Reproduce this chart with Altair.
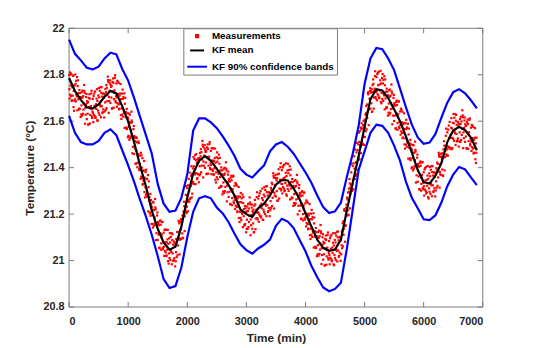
import altair as alt
import pandas as pd

# ---------------- data ----------------
series_names = ["Measurements", "KF mean", "KF 90% confidence bands"]
series_colors = ["#ff0000", "#000000", "#0000ff"]

x_ticks = [0, 1000, 2000, 3000, 4000, 5000, 6000, 7000]
y_ticks = [20.8, 21.0, 21.2, 21.4, 21.6, 21.8, 22.0]

# KF curves sampled every 100 min, 0 .. 6900
grid_t = list(range(0, 7000, 100))
kf_mean = [
    21.786, 21.730, 21.692, 21.660, 21.654, 21.672, 21.705, 21.730, 21.720, 21.665,
    21.598, 21.510, 21.410, 21.320, 21.215, 21.137, 21.078, 21.047, 21.060, 21.145,
    21.270, 21.375, 21.430, 21.450, 21.430, 21.395, 21.360, 21.325, 21.280, 21.220,
    21.200, 21.188, 21.225, 21.245, 21.280, 21.327, 21.347, 21.345, 21.310, 21.265,
    21.205, 21.147, 21.090, 21.055, 21.042, 21.047, 21.090, 21.215, 21.335, 21.450,
    21.575, 21.695, 21.738, 21.732, 21.700, 21.652, 21.600, 21.535, 21.465, 21.390,
    21.338, 21.332, 21.365, 21.420, 21.510, 21.560, 21.576, 21.562, 21.530, 21.475,
]
band_upper = [
    21.951, 21.890, 21.862, 21.830, 21.823, 21.835, 21.870, 21.895, 21.888, 21.825,
    21.775, 21.700, 21.620, 21.540, 21.460, 21.330, 21.245, 21.210, 21.215, 21.270,
    21.370, 21.560, 21.612, 21.612, 21.595, 21.570, 21.535, 21.495, 21.450, 21.395,
    21.370, 21.358, 21.385, 21.410, 21.470, 21.500, 21.510, 21.490, 21.460, 21.420,
    21.380, 21.335, 21.280, 21.230, 21.205, 21.212, 21.250, 21.360, 21.460, 21.580,
    21.760, 21.870, 21.915, 21.910, 21.870, 21.820, 21.740, 21.660, 21.585, 21.530,
    21.503, 21.508, 21.545, 21.615, 21.680, 21.725, 21.738, 21.720, 21.690, 21.655,
]
band_lower = [
    21.623, 21.550, 21.510, 21.500, 21.500, 21.515, 21.550, 21.565, 21.540, 21.475,
    21.410, 21.340, 21.262, 21.190, 21.110, 21.020, 20.920, 20.882, 20.890, 20.970,
    21.100, 21.210, 21.268, 21.277, 21.268, 21.228, 21.203, 21.165, 21.115, 21.070,
    21.045, 21.030, 21.052, 21.068, 21.090, 21.150, 21.180, 21.168, 21.140, 21.090,
    21.040, 20.978, 20.928, 20.884, 20.868, 20.878, 20.905, 21.050, 21.220, 21.390,
    21.470, 21.550, 21.585, 21.580, 21.550, 21.495, 21.430, 21.340, 21.270, 21.225,
    21.178, 21.174, 21.195, 21.250, 21.320, 21.370, 21.403, 21.393, 21.358, 21.325,
]

# measurements: four interleaved sample sets
# set A at t = 0, 20, 40 ... ; B at 10, 30 ... ; C at 5, 25 ... ; D at 15, 35 ...
meas_a = [
    21.798, 21.714, 21.801, 21.710, 21.730,  21.694, 21.774, 21.647, 21.721, 21.653,
    21.703, 21.624, 21.708, 21.730, 21.628,  21.609, 21.683, 21.661, 21.627, 21.731,
    21.696, 21.627, 21.728, 21.653, 21.687,  21.636, 21.731, 21.617, 21.706, 21.651,
    21.716, 21.648, 21.744, 21.777, 21.687,  21.679, 21.752, 21.729, 21.695, 21.798,
    21.762, 21.678, 21.765, 21.675, 21.695,  21.629, 21.704, 21.571, 21.640, 21.566,
    21.611, 21.520, 21.593, 21.603, 21.490,  21.459, 21.514, 21.473, 21.421, 21.506,
    21.452, 21.361, 21.441, 21.344, 21.357,  21.284, 21.352, 21.212, 21.274, 21.193,
    21.231, 21.142, 21.217, 21.229, 21.118,  21.089, 21.152, 21.118, 21.074, 21.166,
    21.120, 21.041, 21.133, 21.047, 21.072,  21.011, 21.102, 20.984, 21.069, 21.010,
    21.071, 21.015, 21.123, 21.168, 21.090,  21.094, 21.194, 21.198, 21.191, 21.321,
    21.312, 21.260, 21.379, 21.321, 21.373,  21.339, 21.438, 21.329, 21.422, 21.372,
    21.441, 21.372, 21.467, 21.499, 21.408,  21.399, 21.470, 21.445, 21.409, 21.510,
    21.472, 21.392, 21.483, 21.397, 21.421,  21.359, 21.440, 21.313, 21.388, 21.320,
    21.371, 21.291, 21.375, 21.396, 21.294,  21.274, 21.340, 21.310, 21.269, 21.365,
    21.322, 21.237, 21.323, 21.232, 21.251,  21.184, 21.268, 21.144, 21.222, 21.157,
    21.211, 21.136, 21.224, 21.250, 21.152,  21.137, 21.219, 21.206, 21.181, 21.294,
    21.267, 21.198, 21.300, 21.225, 21.260,  21.209, 21.304, 21.191, 21.280, 21.226,
    21.291, 21.227, 21.328, 21.365, 21.280,  21.276, 21.355, 21.338, 21.310, 21.419,
    21.389, 21.316, 21.413, 21.334, 21.364,  21.309, 21.390, 21.263, 21.338, 21.270,
    21.321, 21.239, 21.321, 21.340, 21.236,  21.214, 21.277, 21.244, 21.200, 21.293,
    21.247, 21.162, 21.249, 21.158, 21.178,  21.111, 21.188, 21.056, 21.127, 21.054,
    21.101, 21.021, 21.105, 21.126, 21.024,  21.004, 21.076, 21.053, 21.018, 21.121,
    21.084, 21.012, 21.111, 21.033, 21.065,  21.011, 21.108, 20.996, 21.087, 21.034,
    21.101, 21.053, 21.169, 21.222, 21.152,  21.194, 21.293, 21.296, 21.288, 21.417,
    21.407, 21.357, 21.478, 21.422, 21.476,  21.444, 21.557, 21.462, 21.569, 21.533,
    21.606, 21.557, 21.672, 21.724, 21.653,  21.654, 21.738, 21.725, 21.702, 21.815,
    21.790, 21.716, 21.813, 21.732, 21.762,  21.696, 21.778, 21.651, 21.727, 21.659,
    21.711, 21.628, 21.710, 21.728, 21.624,  21.601, 21.666, 21.634, 21.592, 21.686,
    21.642, 21.556, 21.641, 21.549, 21.567,  21.499, 21.573, 21.439, 21.507, 21.432,
    21.476, 21.388, 21.464, 21.477, 21.367,  21.339, 21.404, 21.372, 21.330, 21.424,
    21.380, 21.306, 21.403, 21.322, 21.352,  21.296, 21.391, 21.277, 21.366, 21.311,
    21.376, 21.314, 21.416, 21.455, 21.371,  21.369, 21.462, 21.459, 21.445, 21.568,
    21.552, 21.489, 21.597, 21.528, 21.569,  21.524, 21.615, 21.498, 21.584, 21.526,
    21.587, 21.511, 21.599, 21.625, 21.527,  21.511, 21.580, 21.552, 21.514, 21.612,
    21.572, 21.488, 21.575, 21.485, 21.505,
]
meas_b = [
    21.698, 21.753, 21.690, 21.795, 21.689,  21.761, 21.707, 21.776, 21.654, 21.704,
    21.668, 21.732, 21.676, 21.589, 21.704,  21.678, 21.587, 21.697, 21.665, 21.614,
    21.596, 21.666, 21.617, 21.738, 21.646,  21.703, 21.664, 21.746, 21.639, 21.702,
    21.681, 21.756, 21.712, 21.636, 21.763,  21.748, 21.656, 21.765, 21.733, 21.681,
    21.662, 21.717, 21.654, 21.760, 21.654,  21.696, 21.637, 21.700, 21.573, 21.617,
    21.576, 21.628, 21.561, 21.462, 21.566,  21.528, 21.418, 21.509, 21.459, 21.389,
    21.352, 21.400, 21.330, 21.429, 21.316,  21.351, 21.285, 21.341, 21.207, 21.244,
    21.196, 21.250, 21.185, 21.088, 21.194,  21.158, 21.056, 21.154, 21.112, 21.049,
    21.020, 21.080, 21.022, 21.132, 21.031,  21.078, 21.035, 21.113, 21.002, 21.061,
    21.036, 21.123, 21.091, 21.027, 21.166,  21.163, 21.098, 21.234, 21.229, 21.204,
    21.212, 21.299, 21.268, 21.406, 21.332,  21.406, 21.371, 21.458, 21.355, 21.423,
    21.406, 21.480, 21.435, 21.358, 21.484,  21.468, 21.374, 21.481, 21.447, 21.393,
    21.372, 21.431, 21.372, 21.482, 21.380,  21.426, 21.373, 21.442, 21.321, 21.371,
    21.336, 21.399, 21.343, 21.255, 21.370,  21.343, 21.244, 21.346, 21.307, 21.248,
    21.222, 21.276, 21.212, 21.317, 21.210,  21.251, 21.201, 21.273, 21.155, 21.208,
    21.176, 21.244, 21.192, 21.109, 21.228,  21.206, 21.123, 21.242, 21.219, 21.177,
    21.167, 21.237, 21.189, 21.310, 21.219,  21.276, 21.237, 21.320, 21.213, 21.277,
    21.256, 21.335, 21.296, 21.224, 21.356,  21.345, 21.259, 21.374, 21.348, 21.302,
    21.289, 21.355, 21.302, 21.419, 21.323,  21.376, 21.323, 21.392, 21.271, 21.321,
    21.286, 21.347, 21.289, 21.199, 21.312,  21.283, 21.181, 21.280, 21.238, 21.176,
    21.147, 21.201, 21.138, 21.243, 21.137,  21.178, 21.121, 21.185, 21.060, 21.105,
    21.066, 21.129, 21.073, 20.985, 21.100,  21.073, 20.980, 21.089, 21.056, 21.004,
    20.984, 21.051, 21.000, 21.118, 21.024,  21.078, 21.041, 21.125, 21.020, 21.085,
    21.066, 21.161, 21.137, 21.081, 21.228,  21.263, 21.197, 21.332, 21.326, 21.300,
    21.307, 21.396, 21.367, 21.507, 21.435,  21.511, 21.490, 21.591, 21.502, 21.584,
    21.571, 21.665, 21.640, 21.583, 21.729,  21.723, 21.642, 21.761, 21.740, 21.698,
    21.690, 21.755, 21.702, 21.817, 21.721,  21.763, 21.711, 21.780, 21.660, 21.710,
    21.676, 21.736, 21.678, 21.587, 21.700,  21.670, 21.570, 21.670, 21.630, 21.569,
    21.542, 21.595, 21.530, 21.634, 21.526,  21.566, 21.506, 21.568, 21.440, 21.483,
    21.441, 21.496, 21.432, 21.336, 21.443,  21.408, 21.308, 21.408, 21.368, 21.307,
    21.280, 21.345, 21.292, 21.407, 21.311,  21.363, 21.324, 21.406, 21.299, 21.362,
    21.341, 21.422, 21.384, 21.314, 21.447,  21.438, 21.366, 21.495, 21.483, 21.451,
    21.452, 21.528, 21.486, 21.613, 21.528,  21.591, 21.548, 21.627, 21.517, 21.577,
    21.552, 21.619, 21.567, 21.484, 21.603,  21.580, 21.484, 21.588, 21.552, 21.495,
    21.472, 21.527, 21.464, 21.570, 21.464,
]
meas_c = [
    21.738, 21.806, 21.687, 21.754, 21.645,  21.801, 21.714, 21.751, 21.650, 21.721,
    21.629, 21.701, 21.650, 21.722, 21.672,  21.686, 21.585, 21.716, 21.654, 21.620,
    21.636, 21.719, 21.614, 21.697, 21.602,  21.743, 21.671, 21.721, 21.635, 21.719,
    21.642, 21.725, 21.686, 21.769, 21.731,  21.756, 21.654, 21.784, 21.722, 21.687,
    21.702, 21.770, 21.651, 21.719, 21.610,  21.736, 21.644, 21.675, 21.569, 21.634,
    21.537, 21.597, 21.535, 21.595, 21.534,  21.536, 21.416, 21.528, 21.448, 21.395,
    21.392, 21.453, 21.327, 21.388, 21.272,  21.391, 21.292, 21.316, 21.203, 21.261,
    21.157, 21.219, 21.159, 21.221, 21.162,  21.166, 21.054, 21.173, 21.101, 21.055,
    21.060, 21.133, 21.019, 21.091, 20.987,  21.118, 21.042, 21.088, 20.998, 21.078,
    20.997, 21.092, 21.065, 21.160, 21.134,  21.171, 21.096, 21.253, 21.218, 21.210,
    21.252, 21.352, 21.265, 21.365, 21.288,  21.446, 21.378, 21.433, 21.351, 21.440,
    21.367, 21.449, 21.409, 21.491, 21.452,  21.476, 21.372, 21.500, 21.436, 21.399,
    21.412, 21.484, 21.369, 21.441, 21.336,  21.466, 21.380, 21.417, 21.317, 21.388,
    21.297, 21.368, 21.317, 21.388, 21.338,  21.351, 21.242, 21.365, 21.296, 21.254,
    21.262, 21.329, 21.209, 21.276, 21.166,  21.291, 21.208, 21.248, 21.151, 21.225,
    21.137, 21.213, 21.166, 21.242, 21.196,  21.214, 21.121, 21.261, 21.208, 21.183,
    21.207, 21.290, 21.186, 21.269, 21.175,  21.316, 21.244, 21.295, 21.209, 21.294,
    21.217, 21.304, 21.270, 21.357, 21.324,  21.353, 21.257, 21.393, 21.337, 21.308,
    21.329, 21.408, 21.299, 21.378, 21.279,  21.416, 21.330, 21.367, 21.267, 21.338,
    21.247, 21.316, 21.263, 21.332, 21.280,  21.291, 21.179, 21.299, 21.227, 21.182,
    21.187, 21.254, 21.135, 21.202, 21.093,  21.218, 21.128, 21.160, 21.056, 21.122,
    21.027, 21.098, 21.047, 21.118, 21.068,  21.081, 20.978, 21.108, 21.045, 21.010,
    21.024, 21.104, 20.997, 21.077, 20.980,  21.118, 21.048, 21.100, 21.016, 21.102,
    21.027, 21.130, 21.111, 21.214, 21.196,  21.271, 21.195, 21.351, 21.315, 21.306,
    21.347, 21.449, 21.364, 21.466, 21.391,  21.551, 21.497, 21.566, 21.498, 21.601,
    21.532, 21.634, 21.614, 21.716, 21.697,  21.731, 21.640, 21.780, 21.729, 21.704,
    21.730, 21.808, 21.699, 21.776, 21.677,  21.803, 21.718, 21.755, 21.656, 21.727,
    21.637, 21.705, 21.652, 21.720, 21.668,  21.678, 21.568, 21.689, 21.619, 21.575,
    21.582, 21.648, 21.527, 21.593, 21.482,  21.606, 21.513, 21.543, 21.436, 21.500,
    21.402, 21.465, 21.406, 21.469, 21.411,  21.416, 21.306, 21.427, 21.357, 21.313,
    21.320, 21.398, 21.289, 21.366, 21.267,  21.403, 21.331, 21.381, 21.295, 21.379,
    21.302, 21.391, 21.358, 21.447, 21.415,  21.446, 21.364, 21.514, 21.472, 21.457,
    21.492, 21.581, 21.483, 21.572, 21.484,  21.631, 21.555, 21.602, 21.513, 21.594,
    21.513, 21.588, 21.541, 21.617, 21.571,  21.588, 21.482, 21.607, 21.541, 21.501,
    21.512, 21.580, 21.461, 21.529, 21.420,
]
meas_d = [
    21.810, 21.708, 21.746, 21.661, 21.754,  21.685, 21.790, 21.694, 21.734, 21.618,
    21.725, 21.632, 21.756, 21.657, 21.717,  21.632, 21.700, 21.590, 21.719, 21.642,
    21.708, 21.621, 21.673, 21.604, 21.711,  21.627, 21.747, 21.664, 21.719, 21.616,
    21.738, 21.656, 21.792, 21.704, 21.776,  21.702, 21.769, 21.658, 21.787, 21.709,
    21.774, 21.672, 21.710, 21.626, 21.719,  21.620, 21.720, 21.618, 21.653, 21.531,
    21.633, 21.528, 21.641, 21.530, 21.579,  21.482, 21.531, 21.402, 21.513, 21.417,
    21.464, 21.355, 21.386, 21.295, 21.381,  21.275, 21.368, 21.259, 21.287, 21.158,
    21.253, 21.150, 21.265, 21.156, 21.207,  21.112, 21.169, 21.047, 21.166, 21.077,
    21.132, 21.035, 21.078, 20.998, 21.096,  21.002, 21.118, 21.031, 21.082, 20.975,
    21.093, 21.023, 21.171, 21.095, 21.179,  21.117, 21.211, 21.127, 21.283, 21.232,
    21.324, 21.254, 21.324, 21.272, 21.397,  21.330, 21.454, 21.376, 21.435, 21.337,
    21.463, 21.380, 21.515, 21.426, 21.497,  21.422, 21.487, 21.374, 21.501, 21.421,
    21.484, 21.386, 21.428, 21.348, 21.445,  21.350, 21.456, 21.360, 21.401, 21.285,
    21.393, 21.299, 21.423, 21.323, 21.383,  21.297, 21.357, 21.239, 21.361, 21.276,
    21.334, 21.231, 21.268, 21.183, 21.275,  21.175, 21.284, 21.191, 21.235, 21.122,
    21.233, 21.144, 21.272, 21.177, 21.241,  21.160, 21.236, 21.135, 21.273, 21.205,
    21.279, 21.192, 21.245, 21.176, 21.284,  21.200, 21.320, 21.238, 21.293, 21.191,
    21.313, 21.235, 21.376, 21.292, 21.369,  21.299, 21.372, 21.267, 21.402, 21.330,
    21.401, 21.310, 21.358, 21.285, 21.388,  21.300, 21.406, 21.310, 21.351, 21.235,
    21.343, 21.247, 21.369, 21.267, 21.325,  21.237, 21.294, 21.173, 21.292, 21.204,
    21.259, 21.156, 21.194, 21.109, 21.202,  21.102, 21.204, 21.103, 21.140, 21.019,
    21.123, 21.029, 21.153, 21.053, 21.113,  21.027, 21.093, 20.982, 21.110, 21.032,
    21.096, 21.006, 21.056, 20.984, 21.089,  21.002, 21.124, 21.043, 21.100, 20.999,
    21.123, 21.061, 21.217, 21.149, 21.241,  21.217, 21.310, 21.225, 21.380, 21.328,
    21.419, 21.351, 21.423, 21.373, 21.500,  21.435, 21.573, 21.509, 21.582, 21.498,
    21.628, 21.565, 21.720, 21.651, 21.742,  21.677, 21.755, 21.654, 21.794, 21.726,
    21.802, 21.710, 21.758, 21.683, 21.786,  21.687, 21.794, 21.698, 21.740, 21.624,
    21.733, 21.636, 21.758, 21.655, 21.713,  21.624, 21.683, 21.563, 21.684, 21.597,
    21.654, 21.550, 21.586, 21.500, 21.591,  21.490, 21.589, 21.486, 21.520, 21.397,
    21.498, 21.396, 21.512, 21.404, 21.456,  21.362, 21.421, 21.301, 21.422, 21.335,
    21.392, 21.300, 21.348, 21.273, 21.376,  21.287, 21.407, 21.324, 21.379, 21.276,
    21.398, 21.322, 21.464, 21.382, 21.460,  21.392, 21.479, 21.388, 21.537, 21.479,
    21.564, 21.483, 21.542, 21.479, 21.593,  21.515, 21.631, 21.545, 21.597, 21.491,
    21.609, 21.519, 21.647, 21.552, 21.616,  21.534, 21.597, 21.481, 21.606, 21.523,
    21.584, 21.482, 21.520, 21.436, 21.529,
]
meas_t_a = list(range(0, 6900, 20))
meas_t_b = list(range(10, 6900, 20))
meas_t_c = list(range(5, 6900, 20))
meas_t_d = list(range(15, 6900, 20))

# ---------------- tables ----------------
meas_df = pd.DataFrame({
    "t": meas_t_a + meas_t_b + meas_t_c + meas_t_d,
    "v": meas_a + meas_b + meas_c + meas_d,
    "series": "Measurements",
})
mean_df = pd.DataFrame({"t": grid_t, "v": kf_mean, "series": "KF mean"})
band_df = pd.concat([
    pd.DataFrame({"t": grid_t, "v": band_upper, "part": "upper"}),
    pd.DataFrame({"t": grid_t, "v": band_lower, "part": "lower"}),
])
band_df["series"] = "KF 90% confidence bands"
xt_df = pd.DataFrame({"t": x_ticks})
yt_df = pd.DataFrame({"v": y_ticks})
frame_df = pd.DataFrame({"t": [0]})

# ---------------- style ----------------
FONT = "Liberation Sans"
AX = "#262626"
BOX = "#7a7a7a"
W, H = 420, 283

x_scale = alt.Scale(domain=[0, 7000], nice=False, zero=False)
y_scale = alt.Scale(domain=[20.8, 22.0], nice=False, zero=False)
x_axis = alt.Axis(values=x_ticks, format="d", title="Time (min)", grid=False,
                  ticks=False, domain=False, labelPadding=9, titlePadding=6)
y_axis = alt.Axis(values=y_ticks, format="~g", title="Temperature (°C)", grid=False,
                  ticks=False, domain=False, labelPadding=5, titlePadding=7)
X = alt.X("t:Q", scale=x_scale, axis=x_axis)
Y = alt.Y("v:Q", scale=y_scale, axis=y_axis)

legend = alt.Legend(title=None, orient="none", legendX=116, legendY=0,
                    fillColor="white", strokeColor=BOX, padding=3,
                    labelFont=FONT, labelFontWeight="bold", labelFontSize=10,
                    labelColor="black", labelOffset=4, rowPadding=0,
                    symbolStrokeWidth=2)
color_enc = alt.Color("series:N", scale=alt.Scale(domain=series_names, range=series_colors),
                      legend=legend)

# plot box and inward ticks on all four sides (drawn first, beneath the data)
frame = alt.Chart(frame_df).mark_rect(fillOpacity=0, stroke=BOX, strokeWidth=1).encode(
    x=alt.value(0), x2=alt.value(W), y=alt.value(0), y2=alt.value(H))
tick_style = dict(color=BOX, thickness=1, size=5, opacity=1)
tb = alt.Chart(xt_df).mark_tick(orient="vertical", **tick_style).encode(x=X, y=alt.value(H - 2.5))
tt = alt.Chart(xt_df).mark_tick(orient="vertical", **tick_style).encode(x=X, y=alt.value(2.5))
tl = alt.Chart(yt_df).mark_tick(orient="horizontal", **tick_style).encode(y=Y, x=alt.value(2.5))
tr = alt.Chart(yt_df).mark_tick(orient="horizontal", **tick_style).encode(y=Y, x=alt.value(W - 2.5))

points = alt.Chart(meas_df).mark_point(filled=True, opacity=1, strokeWidth=0).encode(
    x=X, y=Y, color=color_enc,
    shape=alt.Shape("series:N", scale=alt.Scale(domain=series_names,
                                                range=["square", "stroke", "stroke"]),
                    legend=legend),
    size=alt.Size("series:O", scale=alt.Scale(domain=series_names, range=[5, 400, 400]),
                  legend=legend),
)
bands = alt.Chart(band_df).mark_line(strokeWidth=2.2).encode(
    x=X, y=Y, color=color_enc, detail="part:N")
mean_line = alt.Chart(mean_df).mark_line(strokeWidth=2.2).encode(
    x=X, y=Y, color=color_enc)

chart = alt.layer(frame, tb, tt, tl, tr, points, bands, mean_line).properties(
    width=W, height=H,
    background="white",
    autosize=alt.AutoSizeParams(type="none"),
    padding={"left": 62, "top": 18, "right": 50, "bottom": 39},
).configure_view(
    stroke=None
).configure_axis(
    labelFont=FONT, labelFontSize=11, labelFontWeight="bold", labelColor=AX,
    titleFont=FONT, titleFontSize=12, titleFontWeight="bold", titleColor=AX,
)

chart.save("out.html", embed_options={"renderer": "svg", "actions": False})
